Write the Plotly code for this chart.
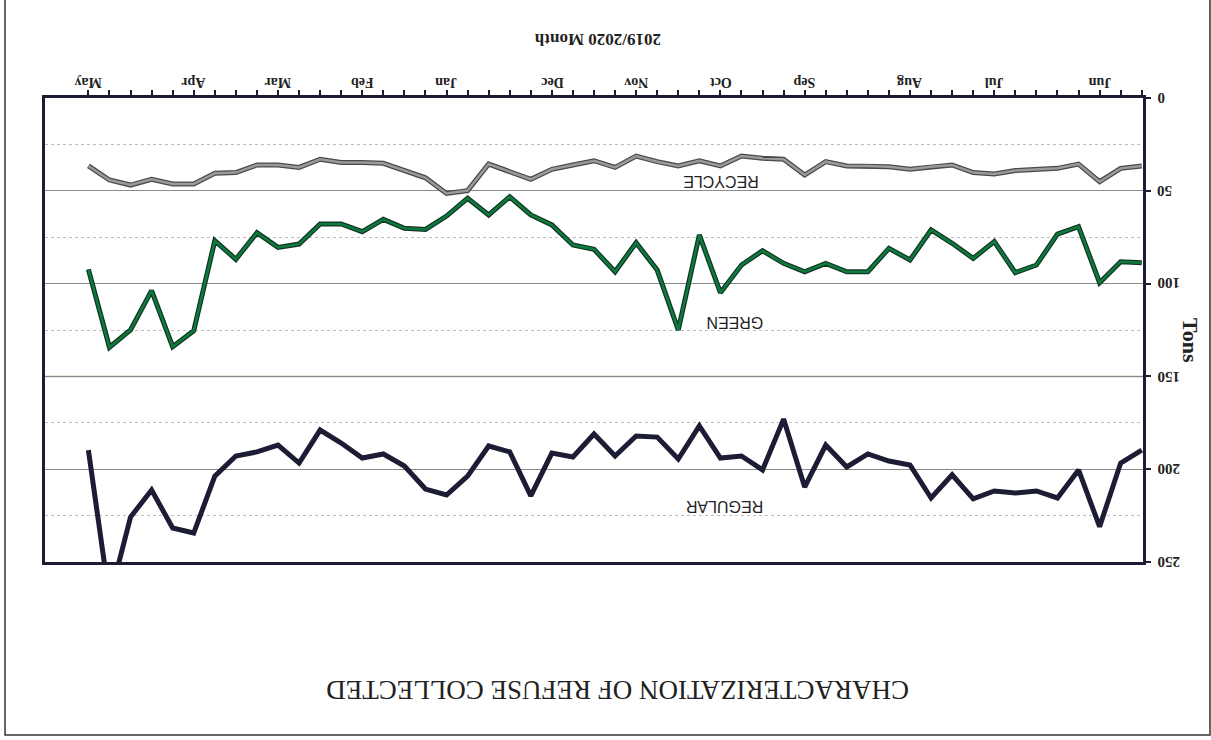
import plotly.graph_objects as go

# Weekly index (0 = first week of June 2019, 50 = May 2020)
weeks = list(range(51))

recycle = [36.6, 37.9, 45.1, 35.6, 37.9, 38.4, 39.1, 40.9, 40.2, 36.1,
           37.0, 38.4, 37.0, 36.6, 36.6, 34.3, 41.5, 33.0, 32.5, 31.3,
           36.6, 33.8, 36.6, 34.3, 31.3, 37.4, 33.8, 36.1, 38.4, 43.8,
           39.7, 35.6, 49.9, 51.4, 43.0, 39.1, 35.2, 34.7, 34.7, 33.0,
           37.4, 36.1, 36.1, 40.2, 40.6, 46.3, 46.3, 43.8, 46.9, 44.2,
           36.6]

green = [88.7, 88.2, 99.5, 69.3, 73.3, 90.0, 94.1, 77.4, 86.4, 78.3,
         71.1, 87.3, 81.0, 93.6, 93.6, 89.1, 93.6, 89.1, 82.3, 90.0,
         104.9, 73.8, 125.0, 92.7, 78.0, 93.6, 81.5, 79.2, 68.4, 63.0,
         53.2, 63.0, 54.0, 63.6, 70.8, 70.2, 65.4, 72.0, 67.9, 67.9,
         78.7, 80.5, 72.6, 86.9, 76.9, 125.4, 134.0, 103.8, 125.0, 134.3,
         92.3]

regular = [189.7, 196.7, 231.0, 200.4, 215.5, 211.7, 212.8, 211.7, 216.0, 203.0,
           215.5, 197.7, 195.6, 191.8, 198.8, 187.0, 209.6, 173.0, 200.4, 192.9,
           194.0, 176.7, 194.5, 182.7, 182.1, 192.9, 181.0, 193.4, 191.3, 214.4,
           190.7, 187.5, 203.7, 213.9, 210.7, 198.3, 191.8, 194.0, 185.9, 178.9,
           196.7, 187.0, 190.7, 192.9, 203.7, 234.4, 231.7, 211.2, 225.8, 270.0,
           189.7]

month_labels = ["Jun", "Jul", "Aug", "Sep", "Oct", "Nov", "Dec", "Jan", "Feb", "Mar", "Apr", "May"]
month_positions = [2, 7, 11, 16, 20, 24, 28, 33, 37, 41, 45, 50]

y_ticks = [0, 50, 100, 150, 200, 250]
y_tick_labels = ["0", "50", "100", "150", "200", "250"]

serif = "Liberation Serif"
sans = "Liberation Sans"
ink = "#222222"
axis_col = "#1c1c34"

# plot area in pixels: x 45..1143, y 98..562
def px_x(p):
    return (p - 45) / 1098

def px_y(p):
    return (562 - p) / 464

fig = go.Figure()

# series drawn with a dark outline underneath a coloured core
fig.add_trace(go.Scatter(x=weeks, y=recycle, mode="lines",
                         line=dict(color="#4a4a4a", width=5), hoverinfo="skip", showlegend=False))
fig.add_trace(go.Scatter(x=weeks, y=recycle, mode="lines", name="RECYCLE",
                         line=dict(color="#9a9a9a", width=2.5), showlegend=False))
fig.add_trace(go.Scatter(x=weeks, y=green, mode="lines",
                         line=dict(color="#123524", width=5), hoverinfo="skip", showlegend=False))
fig.add_trace(go.Scatter(x=weeks, y=green, mode="lines", name="GREEN",
                         line=dict(color="#0e7a3e", width=2.5), showlegend=False))
fig.add_trace(go.Scatter(x=weeks, y=regular, mode="lines", name="REGULAR",
                         line=dict(color="#1c1c34", width=5), showlegend=False))

annotations = []
# month labels (upside down, above the top axis)
for lab, pos in zip(month_labels, month_positions):
    annotations.append(dict(text=lab, xref="x", yref="paper", x=pos, y=px_y(82),
                            xanchor="center", yanchor="middle", showarrow=False, textangle=180,
                            font=dict(family=serif, size=14, color=ink, weight="bold")))
# value labels (upside down, right of the right axis)
for lab, val in zip(y_tick_labels, y_ticks):
    annotations.append(dict(text=lab, xref="paper", yref="y", x=px_x(1155), y=val,
                            xanchor="left", yanchor="middle", showarrow=False, textangle=180,
                            font=dict(family=serif, size=15, color=ink, weight="bold")))

annotations += [
    dict(text="CHARACTERIZATION OF REFUSE COLLECTED", xref="paper", yref="paper",
         x=px_x(618), y=px_y(690), xanchor="center", yanchor="middle",
         showarrow=False, textangle=180,
         font=dict(family=serif, size=27, color=ink)),
    dict(text="2019/2020 Month", xref="paper", yref="paper",
         x=px_x(598), y=px_y(40), xanchor="center", yanchor="middle",
         showarrow=False, textangle=180,
         font=dict(family=serif, size=17, color=ink, weight="bold")),
    dict(text="Tons", xref="paper", yref="paper",
         x=px_x(1191), y=px_y(340), xanchor="center", yanchor="middle",
         showarrow=False, textangle=90,
         font=dict(family=serif, size=22, color=ink, weight="bold")),
    dict(text="RECYCLE", xref="x", yref="y", x=20.0, y=45.3, showarrow=False, textangle=180,
         font=dict(family=sans, size=16, color=ink)),
    dict(text="GREEN", xref="x", yref="y", x=19.3, y=121, showarrow=False, textangle=180,
         font=dict(family=sans, size=16, color=ink)),
    dict(text="REGULAR", xref="x", yref="y", x=19.8, y=220, showarrow=False, textangle=180,
         font=dict(family=sans, size=16, color=ink)),
]

fig.update_layout(
    width=1211, height=740,
    margin=dict(l=45, r=68, t=98, b=178),
    paper_bgcolor="white", plot_bgcolor="white",
    showlegend=False,
    xaxis=dict(
        side="top", range=[52.06, -0.06],
        tickmode="array", tickvals=weeks, showticklabels=False,
        ticks="outside", ticklen=5, tickwidth=2, tickcolor=axis_col,
        showline=True, linecolor=axis_col, linewidth=3, mirror=True,
        showgrid=False, zeroline=False,
    ),
    yaxis=dict(
        side="right", range=[250, 0],
        tickmode="array", tickvals=y_ticks, showticklabels=False,
        ticks="outside", ticklen=5, tickwidth=2, tickcolor=axis_col,
        showline=True, linecolor=axis_col, linewidth=3, mirror=True,
        showgrid=True, gridcolor="#8a8a8a", gridwidth=1.3,
        minor=dict(dtick=25, showgrid=True, gridcolor="#bdbdbd", griddash="dot", gridwidth=1),
        zeroline=False,
    ),
    shapes=[
        dict(type="line", xref="paper", yref="y", x0=0, x1=1, y0=150, y1=150,
             line=dict(color="#b8ad72", width=1.5), layer="below"),
        dict(type="rect", xref="paper", yref="paper",
             x0=-0.0364, x1=1.0610, y0=-0.3728, y1=1.25,
             line=dict(color="#333333", width=1.5)),
    ],
    annotations=annotations,
)

fig.write_html("out.html", config={"displayModeBar": False},
               post_script="document.body.style.margin='0';")
